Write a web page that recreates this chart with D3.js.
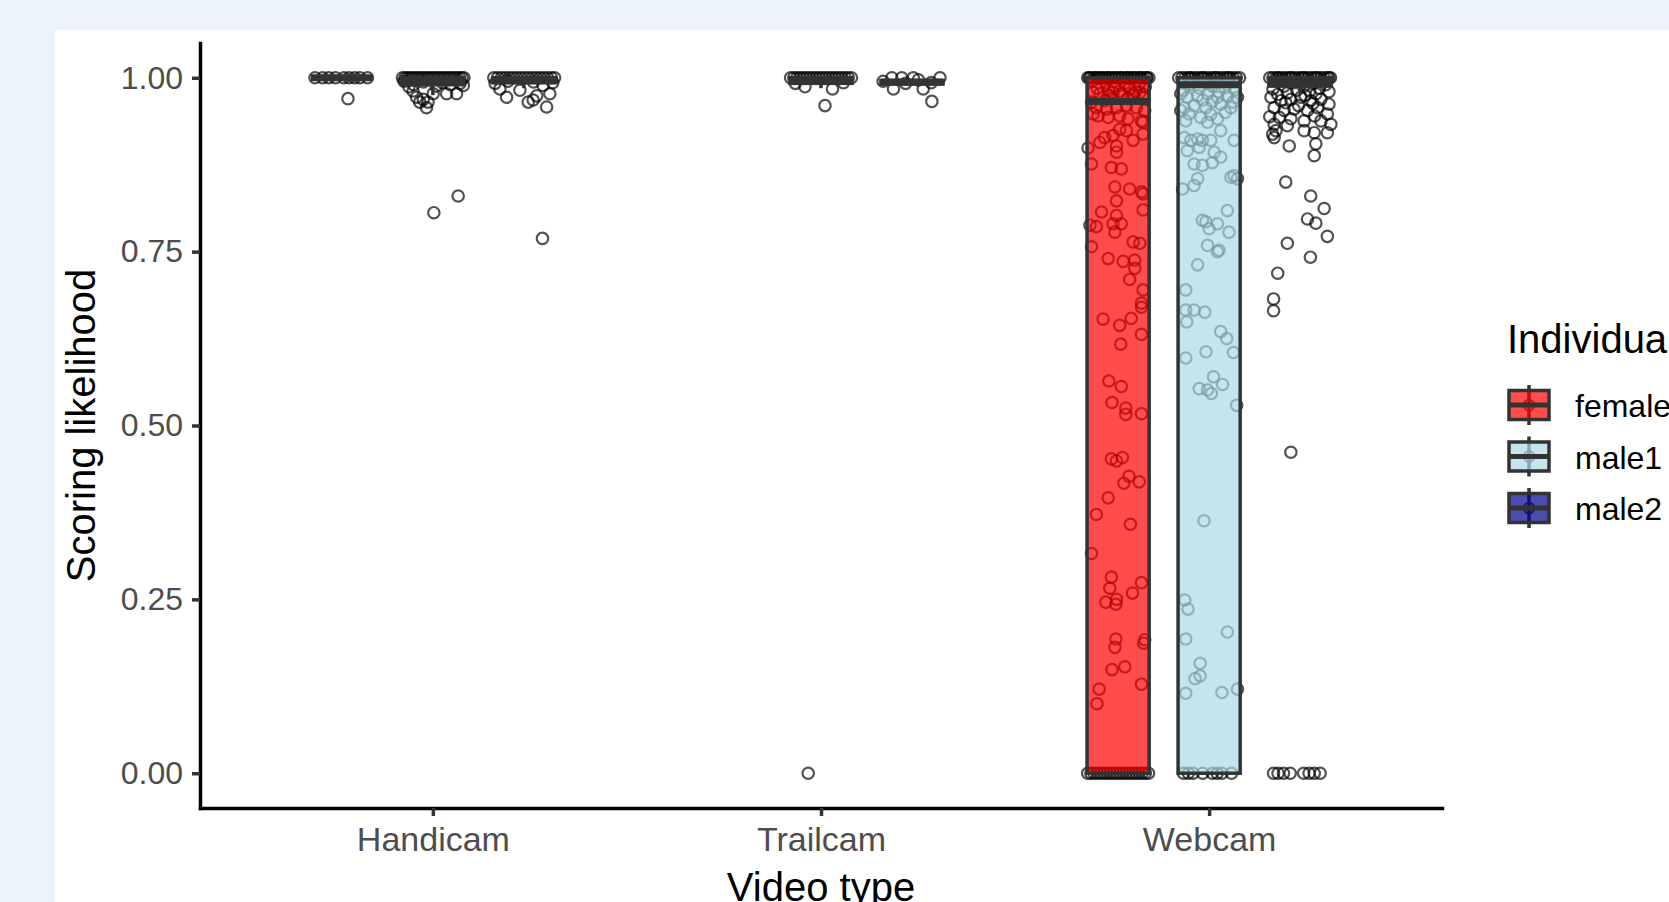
<!DOCTYPE html>
<html>
<head>
<meta charset="utf-8">
<script src="https://cdn.jsdelivr.net/npm/d3@7"></script>
<style>
  html, body { margin: 0; padding: 0; background: #ecf3fa; overflow: hidden; }
  svg { display: block; font-family: "Liberation Sans", Arial, sans-serif; }
</style>
</head>
<body>
<div class="chart"></div>
<script>
// Scoring likelihood by video type and individual (boxplot + jittered points)

const videoTypes = ['Handicam', 'Trailcam', 'Webcam']
const individuals = ['female', 'male1', 'male2']
const yTicks = [0, 0.25, 0.5, 0.75, 1]

// box statistics, one entry per box
const boxVideo = ['Handicam', 'Handicam', 'Handicam', 'Trailcam', 'Trailcam', 'Webcam', 'Webcam', 'Webcam']
const boxIndiv = ['female', 'male1', 'male2', 'male1', 'male2', 'female', 'male1', 'male2']
const boxLow  = [1, 0.975, 0.985, 0.985, 0.989, 0, 0, 0.977]
const boxQ1   = [1, 0.99, 0.993, 0.992, 0.991, 0, 0, 0.988]
const boxMed  = [1, 0.995, 0.997, 0.996, 0.994, 0.966, 0.99, 0.993]
const boxQ3   = [1, 1, 1, 1, 0.996, 1, 1, 1]
const boxHigh = [1, 1, 1, 1, 0.998, 1, 1, 1]

// observations: [likelihood, jitter (-1..1 across the box)]
const handicamFemale = [[1,-0.84],[1,-0.6],[1,-0.41],[1,-0.2],[1,0.06],[1,0.22],[1,0.4],[1,0.56],[1,0.8],[0.97,0.19]]

const handicamMale1 = [
  [1,-0.95],[1,-0.87],[1,-0.79],[1,-0.7],[1,-0.62],[1,-0.53],[1,-0.45],[1,-0.36],[1,-0.28],[1,-0.19],[1,-0.11],[1,-0.02],
  [1,0.06],[1,0.15],[1,0.23],[1,0.32],[1,0.4],[1,0.49],[1,0.57],[1,0.66],[1,0.74],[1,0.83],[1,0.91],[1,0.97],
  [0.995,-0.9],[0.994,-0.3],[0.993,0.3],[0.992,0.85],[0.99,-0.6],[0.99,0.55],[0.988,0.1],[0.987,-0.75],
  [0.989,0.95],[0.981,-0.62],[0.977,0.01],[0.977,0.43],[0.977,0.74],[0.972,-0.51],[0.969,-0.3],[0.965,-0.41],
  [0.965,-0.15],[0.957,-0.2],[0.83,0.79],[0.806,0.03]
]

const handicamMale2 = [
  [1,-0.94],[1,-0.82],[1,-0.7],[1,-0.58],[1,-0.46],[1,-0.34],[1,-0.22],[1,-0.1],[1,0.02],[1,0.14],[1,0.26],[1,0.38],
  [1,0.5],[1,0.62],[1,0.74],[1,0.86],[1,0.96],
  [0.995,-0.5],[0.994,0.3],[0.993,0.9],[0.992,-0.9],
  [0.989,0.6],[0.984,-0.75],[0.982,-0.125],[0.977,0.81],[0.974,0.4],[0.972,-0.54],[0.968,0.29],[0.965,0.135],[0.958,0.71],
  [0.769,0.58]
]

const trailcamMale1 = [
  [1,-0.95],[1,-0.85],[1,-0.75],[1,-0.65],[1,-0.55],[1,-0.45],[1,-0.35],[1,-0.25],[1,-0.15],[1,-0.05],
  [1,0.05],[1,0.15],[1,0.25],[1,0.35],[1,0.45],[1,0.55],[1,0.65],[1,0.75],[1,0.85],[1,0.95],
  [0.993,0.7],[0.992,-0.8],[0.987,-0.5],[0.984,0.36],[0.96,0.125],[0,-0.4]
]

const trailcamMale2 = [
  [1,-0.63],[1,-0.32],[1,0.04],[1,0.875],[0.997,0.2],[0.995,-0.9],[0.993,0.6],[0.992,-0.2],
  [0.984,-0.58],[0.984,0.35],[0.966,0.62]
]

const webcamFemale = [
  [1,-0.95],[1,-0.86],[1,-0.77],[1,-0.66],[1,-0.57],[1,-0.47],[1,-0.38],[1,-0.28],[1,-0.18],[1,-0.08],[1,0.02],
  [1,0.12],[1,0.22],[1,0.31],[1,0.41],[1,0.5],[1,0.6],[1,0.7],[1,0.79],[1,0.88],[1,0.96],
  [1,-0.9],[1,-0.7],[1,-0.5],[1,-0.3],[1,-0.1],[1,0.1],[1,0.3],[1,0.5],[1,0.7],[1,0.9],
  [0.995,-0.8],[0.993,-0.4],[0.992,0.2],[0.99,0.65],[0.988,-0.1],[0.987,0.85],[0.985,-0.65],[0.984,0.35],
  [0.982,-0.3],[0.981,0.05],[0.98,0.55],[0.979,-0.78],[0.977,-0.57],[0.977,0.1],[0.976,0.78],[0.974,-0.31],
  [0.974,0.47],[0.972,0.78],[0.97,-0.2],[0.97,0.3],
  [0.979,-0.16],[0.974,0.16],[0.977,0.47],[0.979,0.68],[0.957,-0.68],[0.955,-0.36],[0.957,-0.05],[0.96,0.26],
  [0.957,0.57],[0.953,0.83],[0.965,-0.83],[0.967,-0.42],
  [0.948,-0.78],[0.945,-0.625],[0.943,-0.31],[0.945,0.05],[0.941,0.31],[0.938,0.73],[0.936,0.78],
  [0.914,-0.42],[0.917,-0.16],[0.926,0.05],[0.924,0.26],[0.91,0.47],[0.919,0.78],[0.907,-0.57],[0.902,-0.05],
  [0.893,-0.05],[0.899,-0.94],[0.876,-0.83],[0.871,-0.21],[0.869,0.1],
  [0.843,-0.1],[0.84,0.36],[0.836,0.73],[0.833,0.78],[0.823,-0.05],[0.807,-0.52],[0.802,-0.05],[0.81,0.78],
  [0.788,-0.88],[0.786,-0.68],[0.79,-0.16],[0.79,0.1],[0.778,-0.1],[0.757,-0.83],[0.764,0.47],[0.762,0.68],
  [0.74,-0.31],[0.736,0.16],[0.738,0.52],[0.726,0.52],[0.71,0.36],[0.695,0.78],[0.676,0.73],
  [0.653,-0.47],[0.644,0.05],[0.654,0.41],[0.67,0.73],[0.631,0.73],[0.617,0.08],[0.564,-0.29],[0.556,0.1],
  [0.533,-0.19],[0.525,0.24],[0.516,0.24],[0.517,0.73],[0.452,-0.21],[0.449,-0.05],[0.454,0.135],[0.427,0.34],
  [0.417,0.18],[0.419,0.66],[0.396,-0.31],[0.372,-0.68],[0.358,0.385],[0.316,-0.83],
  [0.282,-0.21],[0.266,-0.26],[0.25,-0.05],[0.243,-0.07],[0.246,-0.385],[0.259,0.45],[0.274,0.73],[0.193,-0.07],
  [0.181,-0.1],[0.192,0.83],[0.187,0.8],[0.149,-0.19],[0.153,0.21],[0.128,0.73],[0.121,-0.59],[0.1,-0.66],
  [0,-0.95],[0,-0.85],[0,-0.75],[0,-0.65],[0,-0.55],[0,-0.45],[0,-0.35],[0,-0.25],[0,-0.15],[0,-0.05],
  [0,0.05],[0,0.15],[0,0.25],[0,0.35],[0,0.45],[0,0.55],[0,0.65],[0,0.75],[0,0.85],[0,0.95]
]

const webcamMale1 = [
  [1,-0.95],[1,-0.85],[1,-0.75],[1,-0.65],[1,-0.55],[1,-0.45],[1,-0.35],[1,-0.25],[1,-0.15],[1,-0.05],
  [1,0.05],[1,0.15],[1,0.25],[1,0.35],[1,0.45],[1,0.55],[1,0.65],[1,0.75],[1,0.85],[1,0.95],
  [1,-0.6],[1,-0.2],[1,0.2],[1,0.6],
  [0.99,-0.6],[0.988,0.1],[0.986,0.5],[0.985,-0.3],[0.983,0.8],[0.982,-0.8],[0.98,0.3],[0.968,-0.2],
  [0.966,0.1],[0.965,0.75],[0.95,0.5],[0.947,0.05],
  [0.977,-0.885],[0.972,-0.68],[0.974,-0.36],[0.977,-0.05],[0.972,0.26],[0.974,0.57],[0.972,0.885],
  [0.957,-0.78],[0.96,-0.47],[0.957,-0.1],[0.962,0.36],[0.957,0.68],[0.953,-0.885],[0.948,-0.625],
  [0.943,-0.26],[0.936,-0.05],[0.941,0.26],[0.924,0.36],[0.938,-0.73],[0.914,-0.78],[0.91,-0.57],
  [0.912,-0.36],[0.91,-0.21],[0.91,0.05],[0.895,-0.68],[0.9,-0.31],[0.893,0.16],[0.886,0.36],[0.91,0.78],
  [0.876,-0.47],[0.874,-0.21],[0.878,0.1],[0.845,-0.47],[0.84,-0.83],[0.855,-0.36],[0.857,0.68],[0.859,0.78],
  [0.855,0.885],[0.809,0.57],[0.795,-0.21],[0.793,-0.1],[0.783,0],[0.79,0.26],[0.778,0.62],[0.759,-0.05],
  [0.75,0.26],[0.752,0.31],[0.731,-0.36],[0.695,-0.73],
  [0.666,-0.73],[0.666,-0.47],[0.663,-0.135],[0.649,-0.7],[0.635,0.36],[0.625,0.55],[0.606,-0.1],[0.605,0.76],
  [0.597,-0.73],[0.57,0.135],[0.559,0.42],[0.553,-0.31],[0.551,-0.05],[0.546,0.07],[0.529,0.86],[0.363,-0.16],
  [0.249,-0.76],[0.236,-0.66],[0.193,-0.73],[0.203,0.57],[0.158,-0.28],[0.136,-0.44],[0.14,-0.28],[0.115,-0.73],
  [0.116,0.4],[0.121,0.885],
  [0,-0.8],[0,-0.65],[0,-0.5],[0,-0.2],[0,0.1],[0,0.25],[0,0.4],[0,0.7]
]

const webcamMale2 = [
  [1,-0.95],[1,-0.85],[1,-0.75],[1,-0.65],[1,-0.55],[1,-0.45],[1,-0.35],[1,-0.25],[1,-0.15],[1,-0.05],
  [1,0.05],[1,0.15],[1,0.25],[1,0.35],[1,0.45],[1,0.55],[1,0.65],[1,0.75],[1,0.85],[1,0.95],
  [1,-0.7],[1,-0.3],[1,0.1],[1,0.5],[1,0.9],
  [0.995,-0.7],[0.993,-0.2],[0.992,0.4],[0.99,0.8],[0.988,-0.5],[0.987,0.1],[0.985,0.6],[0.984,-0.85],
  [0.982,-0.1],[0.981,0.3],[0.98,0.9],[0.978,-0.4],[0.977,0.5],[0.976,-0.7],[0.975,0.15],[0.964,-0.45],
  [0.963,0.4],[0.96,-0.05],[0.945,0.45],[0.944,-0.95],
  [0.972,-0.91],[0.967,-0.6],[0.969,-0.29],[0.972,0.02],[0.967,0.33],[0.969,0.65],[0.962,0.9],[0.957,-0.81],
  [0.953,-0.5],[0.955,-0.19],[0.953,0.23],[0.957,0.54],[0.948,0.85],[0.943,-0.65],[0.941,-0.29],[0.938,0.125],
  [0.938,0.65],[0.933,0.96],[0.933,-0.81],
  [0.919,-0.86],[0.914,-0.81],[0.924,-0.755],[0.931,-0.4],[0.924,0.125],[0.921,0.44],[0.921,0.85],[0.902,-0.34],
  [0.905,0.49],[0.888,0.44],[0.85,-0.45],[0.83,0.33],[0.812,0.75],[0.797,0.23],[0.791,0.49],[0.772,0.85],
  [0.762,-0.4],[0.742,0.32],[0.719,-0.7],[0.682,-0.83],[0.665,-0.83],[0.4615,-0.29],
  [0,-0.83],[0,-0.69],[0,-0.52],[0,-0.31],[0,0.11],[0,0.28],[0,0.44],[0,0.625]
]

const pointVideo = ['Handicam', 'Handicam', 'Handicam', 'Trailcam', 'Trailcam', 'Webcam', 'Webcam', 'Webcam']
const pointIndiv = ['female', 'male1', 'male2', 'male1', 'male2', 'female', 'male1', 'male2']
const pointSets = [handicamFemale, handicamMale1, handicamMale2, trailcamMale1, trailcamMale2,
                   webcamFemale, webcamMale1, webcamMale2]

// Set up the canvas
const W = 1669, H = 902
const plot = {left: 200, right: 1442, top: 43, bottom: 808}
const dodge = 0.2345      // offset between individuals, in category units
const boxWidth = 0.16
const jitterHalf = 0.0825

const fill = d3.scaleOrdinal().domain(individuals).range(['#ff0000', '#add8e6', '#00008b'])

const svg = d3.select('.chart')
  .append('svg')
  .attr('width', W)
  .attr('height', H)

svg.append('rect')
  .attr('x', 55).attr('y', 30)
  .attr('width', W - 55).attr('height', H - 30)
  .attr('fill', '#ffffff')

const xScale = d3.scaleLinear()
  .domain([0.4, videoTypes.length + 0.6])
  .range([plot.left, plot.right])

const yScale = d3.scaleLinear()
  .domain([-0.05, 1.05])
  .range([plot.bottom, plot.top])

const slotCenter = (video, indiv) =>
  videoTypes.indexOf(video) + 1 + (individuals.indexOf(indiv) - 1) * dodge

// Points (drawn first, boxes sit on top of them)
const pointsData = []
pointSets.forEach((set, i) => {
  set.forEach(p => pointsData.push({
    x: slotCenter(pointVideo[i], pointIndiv[i]) + p[1] * jitterHalf,
    v: p[0]
  }))
})

svg.append('g')
  .selectAll('circle')
  .data(pointsData)
  .enter()
  .append('circle')
  .attr('cx', d => xScale(d.x))
  .attr('cy', d => yScale(d.v))
  .attr('r', 5.7)
  .attr('fill', 'none')
  .attr('stroke', '#000')
  .attr('stroke-opacity', 0.68)
  .attr('stroke-width', 2.2)

// Boxes
const boxes = boxVideo.map((v, i) => ({
  c: slotCenter(v, boxIndiv[i]), indiv: boxIndiv[i],
  lo: boxLow[i], q1: boxQ1[i], med: boxMed[i], q3: boxQ3[i], hi: boxHigh[i]
}))
const bw = xScale(boxWidth) - xScale(0)

const boxG = svg.append('g')
  .selectAll('g')
  .data(boxes)
  .enter()
  .append('g')

boxG.append('line')
  .attr('x1', d => xScale(d.c)).attr('x2', d => xScale(d.c))
  .attr('y1', d => yScale(d.lo)).attr('y2', d => yScale(d.q1))
  .attr('stroke', '#333').attr('stroke-width', 3.5)
boxG.append('line')
  .attr('x1', d => xScale(d.c)).attr('x2', d => xScale(d.c))
  .attr('y1', d => yScale(d.q3)).attr('y2', d => yScale(d.hi))
  .attr('stroke', '#333').attr('stroke-width', 3.5)
boxG.append('rect')
  .attr('x', d => xScale(d.c) - bw / 2)
  .attr('y', d => yScale(d.q3))
  .attr('width', bw)
  .attr('height', d => yScale(d.q1) - yScale(d.q3))
  .attr('fill', d => fill(d.indiv))
  .attr('fill-opacity', 0.7)
  .attr('stroke', '#333')
  .attr('stroke-width', 3.5)
boxG.append('line')
  .attr('x1', d => xScale(d.c) - bw / 2).attr('x2', d => xScale(d.c) + bw / 2)
  .attr('y1', d => yScale(d.med)).attr('y2', d => yScale(d.med))
  .attr('stroke', '#333').attr('stroke-width', 7)

// Axes
const xAxis = d3.axisBottom(xScale)
  .tickValues(videoTypes.map((d, i) => i + 1))
  .tickFormat(d => videoTypes[d - 1])
  .tickSizeInner(8).tickSizeOuter(0).tickPadding(11)
const yAxis = d3.axisLeft(yScale)
  .tickValues(yTicks)
  .tickFormat(d3.format('.2f'))
  .tickSizeInner(8).tickSizeOuter(0).tickPadding(9)

const gx = svg.append('g')
  .attr('transform', 'translate(0,' + plot.bottom + ')')
  .call(xAxis)
const gy = svg.append('g')
  .attr('transform', 'translate(' + plot.left + ',0)')
  .call(yAxis)

;[gx, gy].forEach(g => {
  g.select('.domain').attr('stroke', '#000').attr('stroke-width', 3.5).attr('stroke-linecap', 'square')
  g.selectAll('.tick line').attr('stroke', '#333').attr('stroke-width', 3.5)
  g.selectAll('.tick text').attr('fill', '#4d4d4d').style('font-family', '"Liberation Sans", Arial, sans-serif')
})
gx.selectAll('.tick text').style('font-size', '34px')
gy.selectAll('.tick text').style('font-size', '32px')

// Axis titles
svg.append('text')
  .attr('x', (plot.left + plot.right) / 2)
  .attr('y', 901)
  .attr('text-anchor', 'middle')
  .style('font-size', '40px')
  .text('Video type')

svg.append('text')
  .attr('transform', 'translate(95,' + (plot.top + plot.bottom) / 2 + ') rotate(-90)')
  .attr('text-anchor', 'middle')
  .style('font-size', '40px')
  .text('Scoring likelihood')

// Legend
const legend = svg.append('g').attr('transform', 'translate(1507,0)')
legend.append('text')
  .attr('x', 0).attr('y', 353)
  .style('font-size', '40px')
  .text('Individual')

const keyY = d3.scalePoint().domain(individuals).range([405, 508])
const keys = legend.selectAll('.key')
  .data(individuals)
  .enter()
  .append('g')
  .attr('class', 'key')
  .attr('transform', d => 'translate(0,' + keyY(d) + ')')

keys.append('circle')
  .attr('cx', 22).attr('cy', 0).attr('r', 5.3)
  .attr('fill', 'none').attr('stroke', '#000').attr('stroke-opacity', 0.68).attr('stroke-width', 2.1)
keys.append('line')
  .attr('x1', 22).attr('x2', 22).attr('y1', -20).attr('y2', 20)
  .attr('stroke', '#333').attr('stroke-width', 3.5)
keys.append('rect')
  .attr('x', 2).attr('y', -14.5).attr('width', 40).attr('height', 29)
  .attr('fill', d => fill(d)).attr('fill-opacity', 0.7)
  .attr('stroke', '#333').attr('stroke-width', 3.5)
keys.append('line')
  .attr('x1', 2).attr('x2', 42).attr('y1', 0).attr('y2', 0)
  .attr('stroke', '#333').attr('stroke-width', 5)
keys.append('text')
  .attr('x', 68).attr('y', 12)
  .style('font-size', '32px')
  .text(d => d)
</script>
</body>
</html>
